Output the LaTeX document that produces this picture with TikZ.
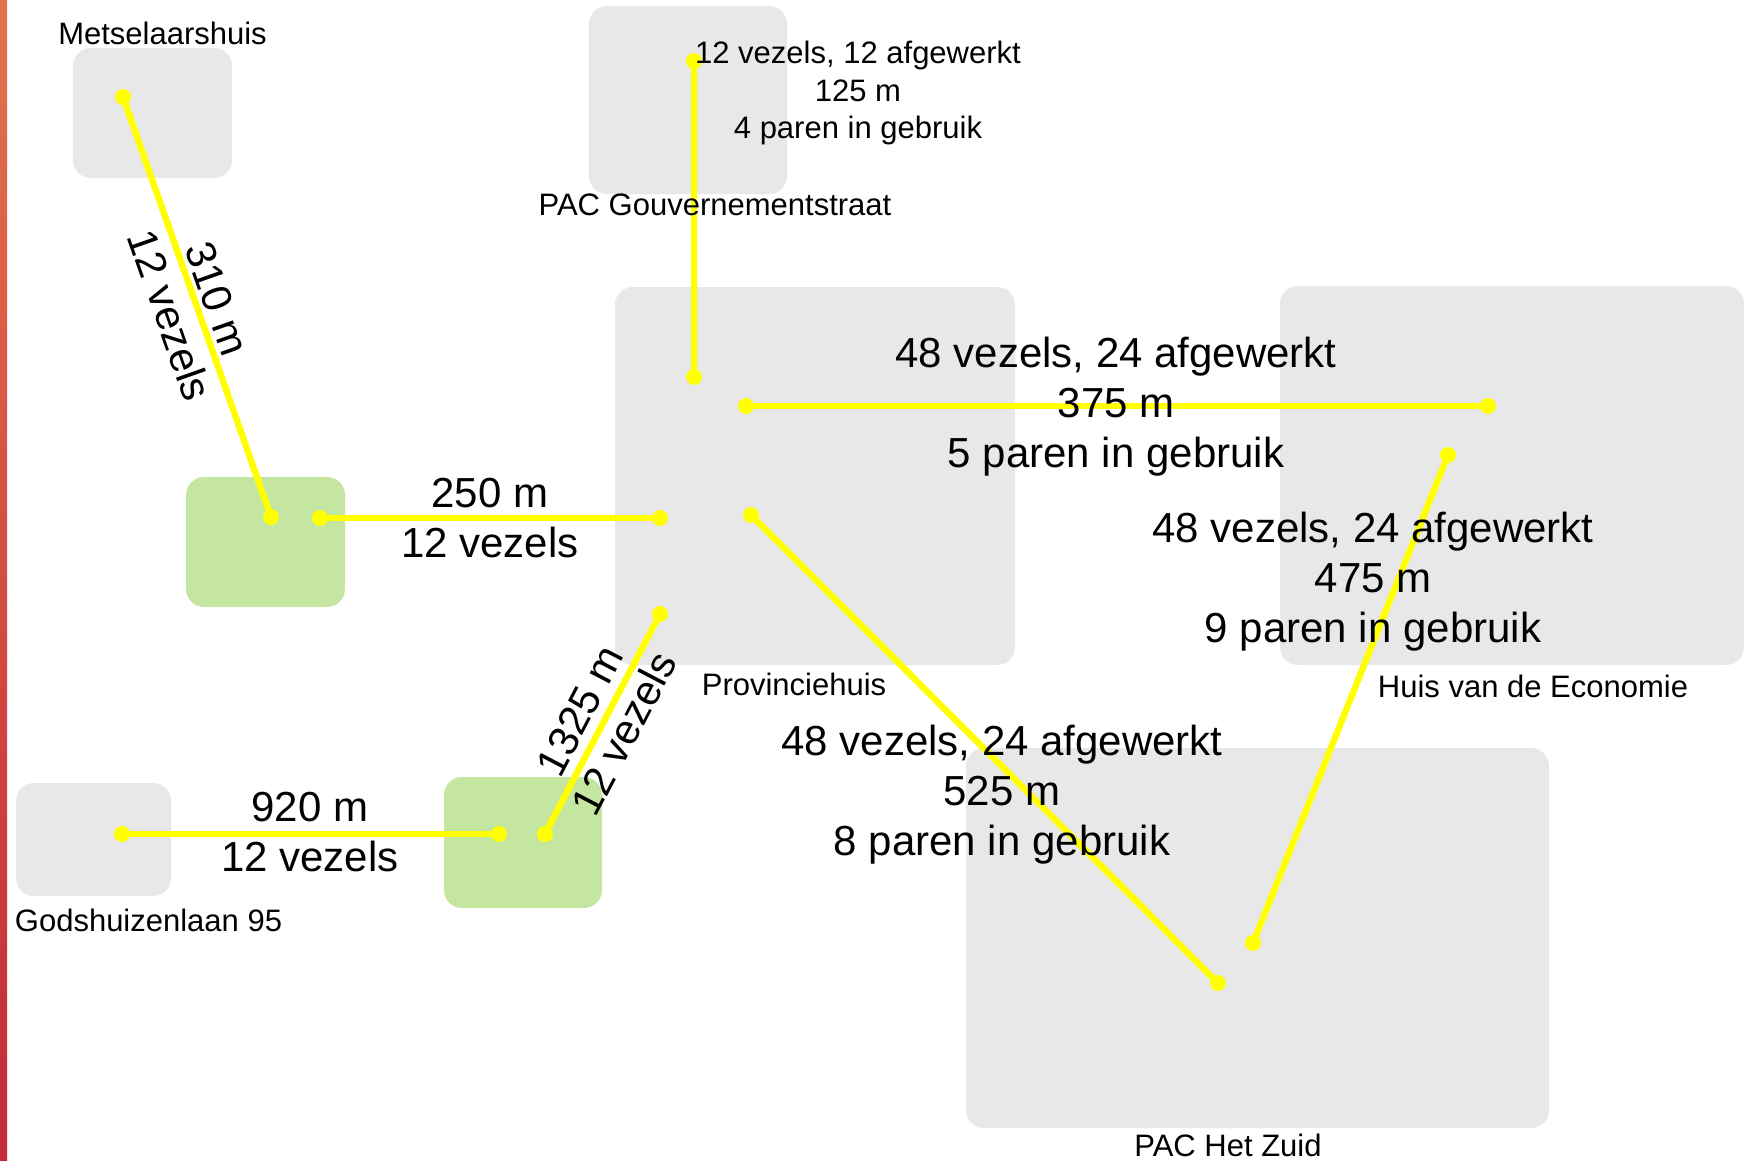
\documentclass[tikz,border=0pt]{standalone}
\usepackage{fontspec}
\setmainfont{Liberation Sans}
\definecolor{boxgray}{RGB}{232,232,232}
\definecolor{boxgreen}{RGB}{197,230,160}
\definecolor{cableyellow}{RGB}{255,255,0}
\definecolor{bartop}{RGB}{226,114,76}
\definecolor{barbot}{RGB}{196,42,56}
\begin{document}
\begin{tikzpicture}[x=1pt,y=-1pt,
  site/.style={fill=boxgray, draw=none, rounded corners=18pt, inner sep=0pt},
  hub/.style={fill=boxgreen, draw=none, rounded corners=18pt, inner sep=0pt},
  sitename/.style={inner sep=0pt, anchor=base, font=\fontsize{31}{37.5}\selectfont},
  smalllbl/.style={inner sep=0pt, align=center, font=\fontsize{31}{37.5}\selectfont},
  biglbl/.style={inner sep=0pt, align=center, font=\fontsize{42}{50}\selectfont},
  cable/.style={draw=cableyellow, line width=6.5pt},
  dot/.style={fill=cableyellow}
]
\useasboundingbox (0,0) rectangle (1744,1160);
\shade[top color=bartop, bottom color=barbot] (0,0) rectangle (7,1160);

% boxes
\node[site, minimum width=159pt, minimum height=130pt] (metsel) at (152.5,113) {};
\node[site, minimum width=198pt, minimum height=188pt] (pacg) at (688,100) {};
\node[site, minimum width=400pt, minimum height=378pt] (prov) at (815,476) {};
\node[site, minimum width=464pt, minimum height=379pt] (huis) at (1512,475.5) {};
\node[site, minimum width=583pt, minimum height=380pt] (zuid) at (1257.5,938) {};
\node[site, minimum width=155pt, minimum height=113pt] (gods) at (93.5,839.5) {};
\node[hub, minimum width=159pt, minimum height=130pt] (hubA) at (265.5,542) {};
\node[hub, minimum width=158pt, minimum height=131pt] (hubB) at (523,842.5) {};

% cable end points
\coordinate (m1) at (123,97);
\coordinate (ga1) at (271,517);
\coordinate (ga2) at (320,518);
\coordinate (p1) at (660,518);
\coordinate (c1) at (694,61);
\coordinate (c2) at (694,377);
\coordinate (p2) at (746,406);
\coordinate (h1) at (1488,406);
\coordinate (h2) at (1448,455);
\coordinate (z1) at (1253,943);
\coordinate (p3) at (751,515);
\coordinate (z2) at (1218,983);
\coordinate (p4) at (660,614);
\coordinate (gb2) at (545,834);
\coordinate (d1) at (122,834);
\coordinate (gb1) at (499,834);

% cables
\draw[cable] (m1) -- (ga1);
\draw[cable] (ga2) -- (p1);
\draw[cable] (c1) -- (c2);
\draw[cable] (p2) -- (h1);
\draw[cable] (h2) -- (z1);
\draw[cable] (p3) -- (z2);
\draw[cable] (p4) -- (gb2);
\draw[cable] (d1) -- (gb1);
\foreach \c in {m1,ga1,ga2,p1,c1,c2,p2,h1,h2,z1,p3,z2,p4,gb2,d1,gb1}
  \fill[dot] (\c) circle[radius=8];

% site names
\node[sitename] (tmetsel) at (162.5,44) {Metselaarshuis};
\node[sitename] (tpacg) at (715,215) {PAC Gouvernementstraat};
\node[sitename] (tprov) at (794,695) {Provinciehuis};
\node[sitename] (thuis) at (1533,697) {Huis van de Economie};
\node[sitename] (tzuid) at (1228,1156) {PAC Het Zuid};
\node[sitename] (tgods) at (148.5,931) {Godshuizenlaan 95};

% cable labels
\node[smalllbl] (lpacg) at (858,93) {12 vezels, 12 afgewerkt\\125 m\\4 paren in gebruik};
\node[biglbl, rotate=-70.6] (lmet) at (193.5,307) {310 m\\12 vezels};
\node[biglbl] (lhubA) at (490,518) {250 m\\12 vezels};
\node[biglbl] (lph) at (1116,407) {48 vezels, 24 afgewerkt\\375 m\\5 paren in gebruik};
\node[biglbl] (lhz) at (1373,582) {48 vezels, 24 afgewerkt\\475 m\\9 paren in gebruik};
\node[biglbl] (lpz) at (1002,795) {48 vezels, 24 afgewerkt\\525 m\\8 paren in gebruik};
\node[biglbl] (lgods) at (310,832) {920 m\\12 vezels};
\node[biglbl, rotate=62.4] (lhubB) at (602,722) {1325 m\\12 vezels};
\end{tikzpicture}
\end{document}
